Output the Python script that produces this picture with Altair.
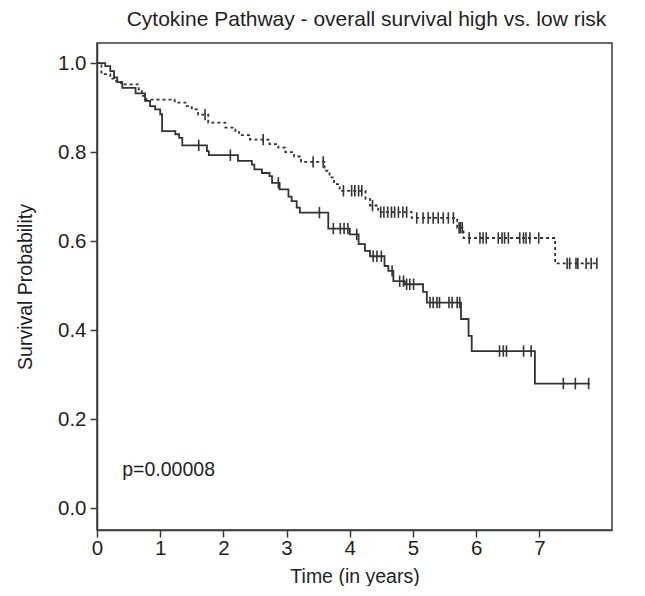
import altair as alt
import pandas as pd
import numpy as np

# ---------------- data ----------------
# High-risk group (solid line): step times (years) and survival after each step
high_times = [0.0, 0.13, 0.21, 0.27, 0.32, 0.40, 0.61, 0.76, 0.84, 0.92, 1.00,
              1.03, 1.24, 1.30, 1.35, 1.74, 1.77, 2.23, 2.45, 2.49, 2.61, 2.73,
              2.77, 2.89, 3.03, 3.08, 3.16, 3.21, 3.66, 4.00, 4.14, 4.24, 4.32,
              4.55, 4.61, 4.69, 4.87, 5.16, 5.22, 5.76, 5.88, 5.93, 6.93]
high_surv = [1.0, 0.993, 0.982, 0.968, 0.957, 0.944, 0.932, 0.915, 0.903, 0.896, 0.885,
             0.847, 0.840, 0.832, 0.815, 0.802, 0.793, 0.780, 0.772, 0.761, 0.753, 0.746,
             0.731, 0.716, 0.700, 0.690, 0.675, 0.664, 0.628, 0.615, 0.593, 0.578, 0.566,
             0.544, 0.533, 0.510, 0.503, 0.486, 0.462, 0.425, 0.387, 0.353, 0.280]
high_censored = [1.61, 2.11, 2.87, 3.52, 3.74, 3.85, 3.91, 3.97, 4.11, 4.37, 4.43, 4.50,
                 4.67, 4.79, 4.85, 4.90, 4.95, 5.01, 5.27, 5.32, 5.38, 5.42, 5.57, 5.62,
                 5.70, 5.74, 6.37, 6.43, 6.48, 6.75, 6.87, 7.38, 7.57, 7.78]
high_end = 7.80

# Low-risk group (dotted line)
low_times = [0.0, 0.07, 0.21, 0.27, 0.38, 0.66, 0.71, 0.775, 1.23, 1.40, 1.50, 1.60,
             1.76, 2.03, 2.19, 2.25, 2.42, 2.73, 2.87, 2.98, 3.12, 3.23, 3.60, 3.68,
             3.75, 3.84, 4.25, 4.32, 4.45, 4.98, 5.70, 5.80, 7.25]
low_surv = [1.0, 0.975, 0.965, 0.960, 0.952, 0.941, 0.926, 0.918, 0.911, 0.903, 0.896, 0.884,
            0.866, 0.855, 0.845, 0.838, 0.828, 0.818, 0.810, 0.800, 0.790, 0.778, 0.758, 0.743,
            0.728, 0.713, 0.695, 0.680, 0.665, 0.652, 0.630, 0.607, 0.550]
low_censored = [1.71, 2.63, 3.42, 3.58, 3.90, 4.03, 4.08, 4.14, 4.19, 4.36, 4.49, 4.54,
                4.60, 4.66, 4.71, 4.77, 4.84, 4.90, 5.06, 5.16, 5.24, 5.32, 5.40, 5.48,
                5.56, 5.64, 5.73, 5.75, 5.78, 5.89, 6.06, 6.11, 6.16, 6.35, 6.41, 6.45,
                6.51, 6.69, 6.75, 6.79, 6.85, 6.99, 7.44, 7.48, 7.58, 7.61, 7.74, 7.82, 7.91]
low_end = 7.93

x_ticks = [0, 1, 2, 3, 4, 5, 6, 7]
y_ticks = [0.0, 0.2, 0.4, 0.6, 0.8, 1.0]
p_text = "p=0.00008"
chart_title = "Cytokine Pathway - overall survival high vs. low risk"

FONT = "Liberation Sans"
INK = "#333333"
TXT = "#1f1f1f"


def step_frame(times, surv, end):
    t = list(times) + [end]
    s = list(surv) + [surv[-1]]
    return pd.DataFrame({"t": t, "s": s})


def censor_frame(times, surv, cens):
    idx = np.searchsorted(np.array(times), np.array(cens), side="right") - 1
    return pd.DataFrame({"t": cens, "s": [surv[i] for i in idx]})


high_line = step_frame(high_times, high_surv, high_end)
low_line = step_frame(low_times, low_surv, low_end)
high_cens = censor_frame(high_times, high_surv, high_censored)
low_cens = censor_frame(low_times, low_surv, low_censored)

x_scale = alt.Scale(domain=[0, 8.15], nice=False, zero=False)
y_scale = alt.Scale(domain=[-0.049, 1.045], nice=False, zero=False)

x_axis = alt.Axis(values=x_ticks, format="d", title="Time (in years)", grid=False,
                  tickSize=7, labelPadding=1, titlePadding=9, labelFlush=False)
y_axis = alt.Axis(values=y_ticks, format=".1f", title="Survival Probability", grid=False,
                  tickSize=7, labelPadding=4, titlePadding=22, labelFlush=False)

X = alt.X("t:Q", scale=x_scale, axis=x_axis)
Y = alt.Y("s:Q", scale=y_scale, axis=y_axis)
Xn = alt.X("t:Q", scale=x_scale)
Yn = alt.Y("s:Q", scale=y_scale)

solid = alt.Chart(high_line).mark_line(interpolate="step-after", color=INK,
                                       strokeWidth=1.8).encode(x=X, y=Y)
dotted = alt.Chart(low_line).mark_line(interpolate="step-after", color=INK,
                                       strokeWidth=1.8, strokeDash=[3, 3]).encode(x=Xn, y=Yn)

tick_shape = "M0,-1L0,1"
solid_c = alt.Chart(high_cens).mark_point(shape=tick_shape, size=130, color=INK,
                                          strokeWidth=1.6, filled=False, opacity=1).encode(x=Xn, y=Yn)
dotted_c = alt.Chart(low_cens).mark_point(shape=tick_shape, size=130, color=INK,
                                          strokeWidth=1.6, filled=False, opacity=1).encode(x=Xn, y=Yn)

ptxt = alt.Chart(pd.DataFrame({"t": [0.40], "s": [0.085], "label": [p_text]})).mark_text(
    align="left", baseline="middle", fontSize=19.5, font=FONT, color=TXT
).encode(x=Xn, y=Yn, text="label:N")

chart = alt.layer(solid, dotted, solid_c, dotted_c, ptxt).properties(
    width=515, height=487,
    title=alt.TitleParams(text=chart_title, fontSize=21, fontWeight="normal", font=FONT,
                          color=TXT, anchor="middle", frame="group", offset=13, dx=12),
    padding={"left": 7, "top": 1, "right": 2, "bottom": 0},
).configure_view(
    stroke="#3a3a3a", strokeWidth=1.5
).configure_axis(
    labelFont=FONT, titleFont=FONT, labelFontSize=20.5, titleFontSize=19.5,
    labelColor=TXT, titleColor=TXT, titleFontWeight="normal",
    domainColor="#3a3a3a", tickColor="#3a3a3a", domainWidth=1.5, tickWidth=1.5
)

chart.save("out.html", embed_options={"renderer": "svg", "actions": False})
